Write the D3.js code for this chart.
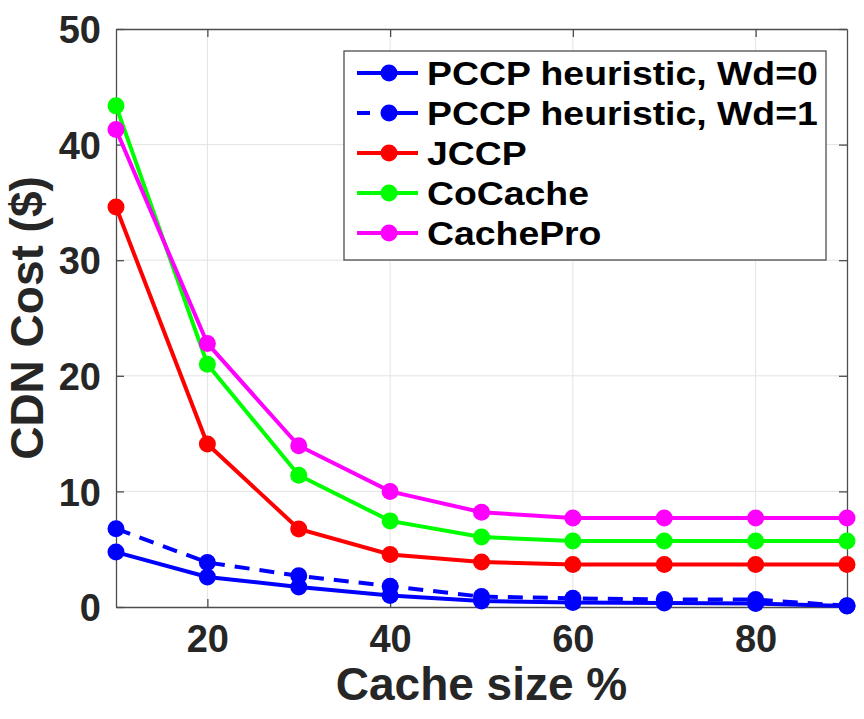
<!DOCTYPE html>
<html>
<head>
<meta charset="utf-8">
<script src="https://cdn.jsdelivr.net/npm/d3@7"></script>
<style>
  body { margin: 0; background: #fff; }
  text { font-family: "Liberation Sans", Arial, Helvetica, sans-serif; font-weight: bold; }
</style>
</head>
<body>
<div id="chart"></div>
<script>
// cache size (%) on x
let cacheSize = [10, 20, 30, 40, 50, 60, 70, 80, 90];

let pccpWd0 = [4.75, 2.6, 1.73, 1.0, 0.52, 0.38, 0.35, 0.3, 0.08];
let pccpWd1 = [6.77, 3.85, 2.7, 1.8, 0.9, 0.75, 0.65, 0.65, 0.1];
let jccp = [34.6, 14.1, 6.75, 4.55, 3.9, 3.67, 3.67, 3.67, 3.67];
let coCache = [43.35, 21.0, 11.4, 7.45, 6.05, 5.7, 5.7, 5.7, 5.7];
let cachePro = [41.3, 22.8, 13.95, 10.0, 8.2, 7.7, 7.7, 7.7, 7.7];

let seriesNames = ["PCCP heuristic, Wd=0", "PCCP heuristic, Wd=1", "JCCP", "CoCache", "CachePro"];
let seriesColors = ["#0000ff", "#0000ff", "#ff0000", "#00ff00", "#ff00ff"];
let seriesDashed = [false, true, false, false, false];
let seriesValues = [pccpWd0, pccpWd1, jccp, coCache, cachePro];

let xTicks = [20, 40, 60, 80];
let yTicks = [0, 10, 20, 30, 40, 50];

let width = 864, height = 719;
let margin = {left: 116, right: 17, top: 29, bottom: 112};
let w = width - margin.left - margin.right;
let h = height - margin.top - margin.bottom;

let svg = d3.select("#chart").append("svg").attr("width", width).attr("height", height);
let g = svg.append("g").attr("transform", "translate(" + margin.left + "," + margin.top + ")");

let x = d3.scaleLinear().domain([10, 90]).range([0, w]);
let y = d3.scaleLinear().domain([0, 50]).range([h, 0]);

// grid
g.append("g").selectAll("line").data(xTicks).enter().append("line")
  .attr("x1", d => x(d)).attr("x2", d => x(d)).attr("y1", 0).attr("y2", h)
  .attr("stroke", "#e3e3e3").attr("stroke-width", 1);
g.append("g").selectAll("line").data(yTicks.slice(1, -1)).enter().append("line")
  .attr("y1", d => y(d)).attr("y2", d => y(d)).attr("x1", 0).attr("x2", w)
  .attr("stroke", "#e3e3e3").attr("stroke-width", 1);

// axes (matlab style box, ticks inside)
let xAxis = d3.axisBottom(x).tickValues(xTicks).tickSizeInner(-8).tickSizeOuter(0).tickPadding(18);
let yAxis = d3.axisLeft(y).tickValues(yTicks).tickSizeInner(-8).tickSizeOuter(0).tickPadding(15);
let xAx = g.append("g").attr("transform", "translate(0," + h + ")").call(xAxis);
let yAx = g.append("g").call(yAxis);
g.append("g").call(d3.axisTop(x).tickValues(xTicks).tickSizeInner(-8).tickSizeOuter(0).tickFormat(""));
g.append("g").attr("transform", "translate(" + w + ",0)")
  .call(d3.axisRight(y).tickValues(yTicks).tickSizeInner(-8).tickSizeOuter(0).tickFormat(""));
g.selectAll(".domain, .tick line").attr("stroke", "#4d4d4d").attr("stroke-width", 1.3);
xAx.selectAll("text").attr("font-size", "38px").attr("fill", "#262626");
yAx.selectAll("text").attr("font-size", "38px").attr("fill", "#262626").attr("dy", "0.36em");

// lines
let line = d3.line().x((d, i) => x(cacheSize[i])).y(d => y(d));
seriesValues.forEach((vals, k) => {
  let sg = g.append("g");
  sg.append("path").datum(vals).attr("d", line)
    .attr("fill", "none").attr("stroke", seriesColors[k]).attr("stroke-width", 4)
    .attr("stroke-dasharray", seriesDashed[k] ? "15,10" : null);
  sg.selectAll("circle").data(vals).enter().append("circle")
    .attr("cx", (d, i) => x(cacheSize[i])).attr("cy", d => y(d)).attr("r", 8.5)
    .attr("fill", seriesColors[k]);
});

// legend
let lg = svg.append("g").attr("transform", "translate(344,51)");
lg.append("rect").attr("width", 482).attr("height", 209)
  .attr("fill", "#fff").attr("stroke", "#4d4d4d").attr("stroke-width", 1.3);
seriesNames.forEach((name, k) => {
  let ry = 22 + k * 40;
  lg.append("line").attr("x1", 13).attr("x2", 74).attr("y1", ry).attr("y2", ry)
    .attr("stroke", seriesColors[k]).attr("stroke-width", 4)
    .attr("stroke-dasharray", seriesDashed[k] ? "13,14,40" : null);
  lg.append("circle").attr("cx", 45).attr("cy", ry).attr("r", 8.5).attr("fill", seriesColors[k]);
  lg.append("text").attr("transform", "translate(83," + ry + ")scale(1.15,1)").attr("dy", "0.36em")
    .attr("font-size", "32.5px").attr("fill", "#000").text(name);
});

// axis titles
svg.append("text").attr("x", margin.left + w / 2).attr("y", 700)
  .attr("text-anchor", "middle").attr("font-size", "46px").attr("fill", "#262626")
  .text("Cache size %");
svg.append("text").attr("transform", "translate(43," + (margin.top + h / 2) + ")rotate(-90)")
  .attr("text-anchor", "middle").attr("font-size", "46px").attr("fill", "#262626")
  .text("CDN Cost ($)");
</script>
</body>
</html>
